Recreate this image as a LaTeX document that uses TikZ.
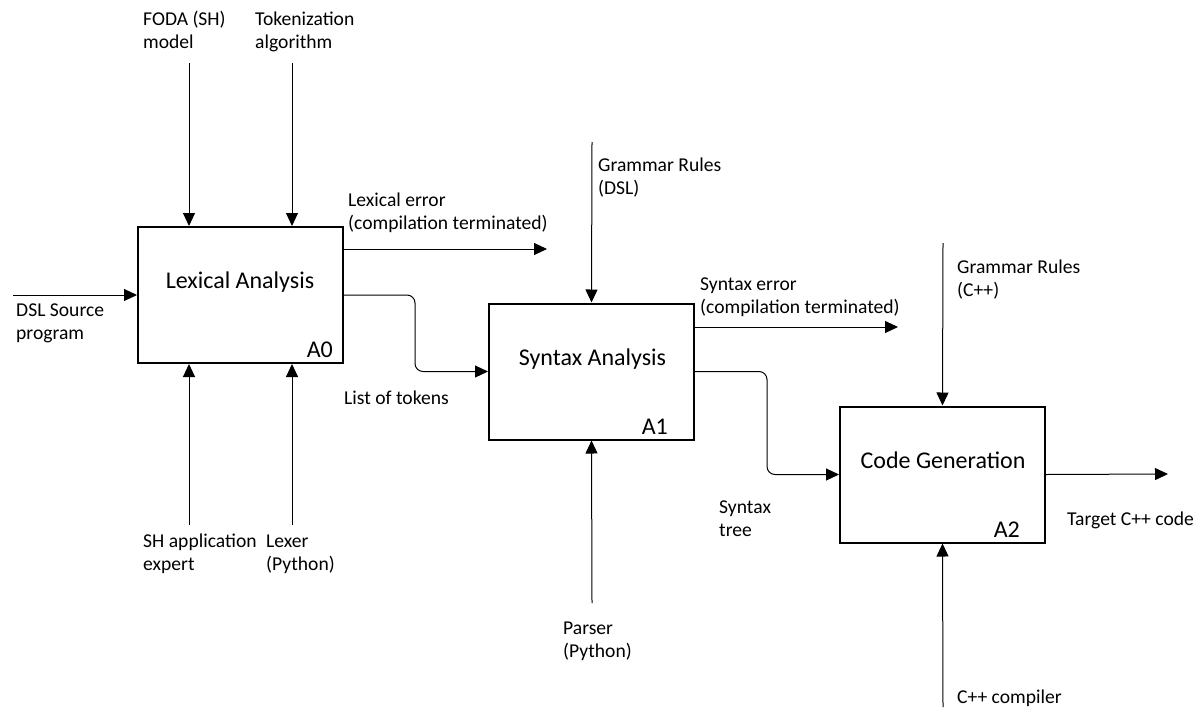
\documentclass[tikz,border=0pt]{standalone}
\usepackage{fontspec}
\setmainfont{Carlito}
\usetikzlibrary{arrows.meta,calc}

\tikzset{
  actbox/.style={draw, line width=2pt, minimum width=205pt, minimum height=136pt, inner sep=0pt},
  flow/.style={line width=1pt, -{Triangle[length=13pt,width=12pt]}},
  lbl/.style={anchor=base west, inner sep=0pt, align=left, font=\fontsize{19.6}{23}\selectfont},
  ttl/.style={anchor=base, inner sep=0pt, font=\fontsize{24}{28}\selectfont},
  num/.style={anchor=base east, inner sep=0pt, font=\fontsize{24}{28}\selectfont},
}

\begin{document}
\begin{tikzpicture}[x=1pt,y=-1pt]
\useasboundingbox (0,0) rectangle (1204,707);

% activity boxes
\node[actbox] (A0) at (240.5,295) {};
\node[actbox] (A1) at (591.5,371.5) {};
\node[actbox] (A2) at (942.5,474.5) {};

\node[ttl] (t0) at (240,288) {Lexical Analysis};
\node[num] (n0) at (333,357) {A0};
\node[ttl] (t1) at (592.5,365) {Syntax Analysis};
\node[num] (n1) at (668,434) {A1};
\node[ttl] (t2) at (943,468) {Code Generation};
\node[num] (n2) at (1020,537) {A2};

% free ends of the arrows
\coordinate (foda) at (189,63);
\coordinate (tok) at (292,63);
\coordinate (dsl) at (13,295);
\coordinate (lexerr) at (547,249);
\coordinate (tokbend) at (415,330);
\coordinate (she) at (189,525);
\coordinate (lexer) at (292,525);
\coordinate (gdsl) at (592,142);
\coordinate (synerr) at (898,327);
\coordinate (treebend) at (767,420);
\coordinate (parser) at (592,603);
\coordinate (gcpp) at (943,243);
\coordinate (target) at (1168,474);
\coordinate (cppc) at (943,707);

% connectors
\draw[flow] (foda) -- (foda |- A0.north);
\draw[flow] (tok) -- (tok |- A0.north);
\draw[flow] (dsl) -- (A0.west);
\draw[flow] (lexerr -| A0.east) -- (lexerr);
\draw[flow, rounded corners=8pt] (A0.east) -| (tokbend) |- (A1.west);
\draw[flow] (she) -- (she |- A0.south);
\draw[flow] (lexer) -- (lexer |- A0.south);

\draw[flow] (gdsl) -- (A1.north);
\draw[flow] (synerr -| A1.east) -- (synerr);
\draw[flow, rounded corners=8pt] (A1.east) -| (treebend) |- (A2.west);
\draw[flow] (parser) -- (A1.south);

\draw[flow] (gcpp) -- (A2.north);
\draw[flow] (A2.east) -- (target);
\draw[flow] (cppc) -- (A2.south);

% labels (two-line labels are placed by the baseline of their last line)
\node[lbl] (lfoda) at (143,48) {FODA (SH)\\model};
\node[lbl] (ltok) at (255,48) {Tokenization\\algorithm};
\node[lbl] (ldsl) at (16,339) {DSL Source\\program};
\node[lbl] (llex) at (348,229) {Lexical error\\(compilation terminated)};
\node[lbl] (llist) at (344,404) {List of tokens};
\node[lbl] (lshe) at (143,570) {SH application\\expert};
\node[lbl] (llexer) at (266,570) {Lexer\\(Python)};
\node[lbl] (lgdsl) at (598,194) {Grammar Rules\\(DSL)};
\node[lbl] (lsyn) at (700,313) {Syntax error\\(compilation terminated)};
\node[lbl] (ltree) at (719,536) {Syntax\\tree};
\node[lbl] (lparser) at (563,657) {Parser\\(Python)};
\node[lbl] (lgcpp) at (957,296) {Grammar Rules\\(C++)};
\node[lbl] (ltarget) at (1067,525) {Target C++ code};
\node[lbl] (lcppc) at (957,703) {C++ compiler};
\end{tikzpicture}
\end{document}
